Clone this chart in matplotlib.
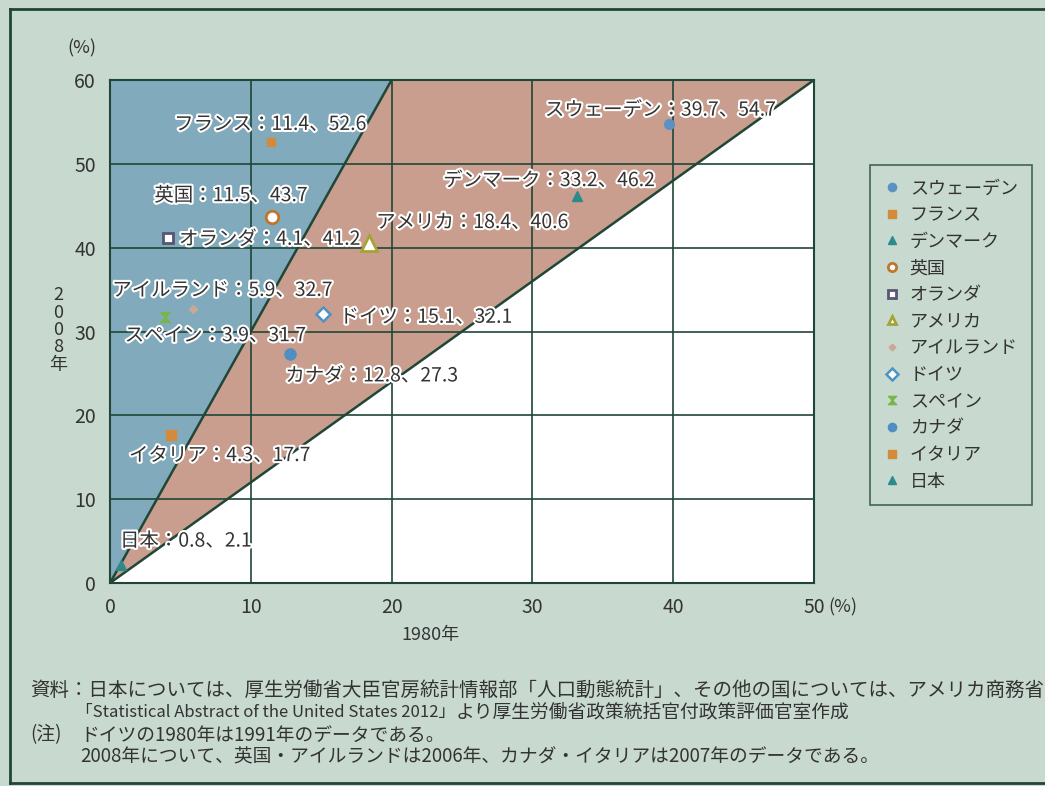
import numpy as np
import matplotlib
matplotlib.use('Agg')
import matplotlib.pyplot as plt
import matplotlib.patheffects as pe
from matplotlib.lines import Line2D

plt.rcParams['font.family'] = ['Noto Sans CJK JP', 'DejaVu Sans']

# female employment-related ratio: 1980 (x) vs 2008 (y), %
countries = ['スウェーデン', 'フランス', 'デンマーク', '英国', 'オランダ', 'アメリカ',
             'アイルランド', 'ドイツ', 'スペイン', 'カナダ', 'イタリア', '日本']
v1980 = [39.7, 11.4, 33.2, 11.5, 4.1, 18.4, 5.9, 15.1, 3.9, 12.8, 4.3, 0.8]
v2008 = [54.7, 52.6, 46.2, 43.7, 41.2, 40.6, 32.7, 32.1, 31.7, 27.3, 17.7, 2.1]

# boundary slopes of the shaded zones
steep_slope = 3.0
shallow_slope = 1.2

BG = '#c8d9cf'
DARK = '#1f4636'
BLUE_ZONE = '#82aabd'
RED_ZONE = '#c99e8f'
TXT = '#333333'

# marker styles per country
hourglass = [(-1, 1), (1, 1), (-1, -1), (1, -1), (-1, 1)]
styles = {
    'スウェーデン': dict(marker='o', mfc='#5b92c4', mec='#5b92c4', ms=7),
    'フランス': dict(marker='s', mfc='#d38a3c', mec='#d38a3c', ms=6),
    'デンマーク': dict(marker='^', mfc='#2c8a8c', mec='#2c8a8c', ms=7),
    '英国': dict(marker='o', mfc='white', mec='#c0762a', ms=9, mew=2),
    'オランダ': dict(marker='s', mfc='white', mec='#565675', ms=7, mew=2),
    'アメリカ': dict(marker='^', mfc='white', mec='#a4a436', ms=11, mew=2),
    'アイルランド': dict(marker='D', mfc='#c9a898', mec='#c9a898', ms=4),
    'ドイツ': dict(marker='D', mfc='white', mec='#4d93c4', ms=7, mew=1.8),
    'スペイン': dict(marker=hourglass, mfc='#78b54a', mec='#78b54a', ms=7),
    'カナダ': dict(marker='o', mfc='#4f8ec2', mec='#4f8ec2', ms=8),
    'イタリア': dict(marker='s', mfc='#d38a3c', mec='#d38a3c', ms=7),
    '日本': dict(marker='^', mfc='#2c8a8c', mec='#2c8a8c', ms=7),
}

# label anchor (x, y, ha) in data units
label_pos = {
    'スウェーデン': (39.1, 56.4, 'center'),
    'フランス': (11.4, 54.7, 'center'),
    'デンマーク': (31.2, 48.0, 'center'),
    '英国': (8.6, 46.2, 'center'),
    'オランダ': (4.9, 41.0, 'left'),
    'アメリカ': (18.9, 43.0, 'left'),
    'アイルランド': (8.0, 34.9, 'center'),
    'ドイツ': (16.3, 31.7, 'left'),
    'スペイン': (7.5, 29.5, 'center'),
    'カナダ': (18.6, 24.7, 'center'),
    'イタリア': (7.8, 15.2, 'center'),
    '日本': (5.4, 5.0, 'center'),
}

fig = plt.figure(figsize=(10.45, 7.86), dpi=100)
fig.patch.set_facecolor(BG)

W, H = 1045, 786
ax = fig.add_axes([110 / W, 1 - 583 / H, (814 - 110) / W, (583 - 80) / H])
ax.set_facecolor('white')
ax.set_xlim(0, 50)
ax.set_ylim(0, 60)

# shaded zones
x_top_steep = 60 / steep_slope
x_top_shallow = 60 / shallow_slope
ax.fill([0, 0, x_top_steep], [0, 60, 60], color=BLUE_ZONE, lw=0, zorder=0)
ax.fill([0, x_top_steep, x_top_shallow], [0, 60, 60], color=RED_ZONE, lw=0, zorder=0)
ax.plot([0, x_top_steep], [0, 60], color=DARK, lw=1.8, zorder=2)
ax.plot([0, x_top_shallow], [0, 60], color=DARK, lw=1.8, zorder=2)

ax.set_xticks(np.arange(0, 51, 10))
ax.set_yticks(np.arange(0, 61, 10))
ax.grid(True, color=DARK, lw=1.2, zorder=1)
ax.set_axisbelow(True)
for sp in ax.spines.values():
    sp.set_color(DARK)
    sp.set_linewidth(1.5)
ax.tick_params(length=0, labelsize=14, labelcolor=TXT, pad=10)

outline = [pe.withStroke(linewidth=3, foreground='white')]
for name, x, y in zip(countries, v1980, v2008):
    st = styles[name]
    ax.plot([x], [y], linestyle='none', zorder=4, **st)
    lx, ly, ha = label_pos[name]
    ax.text(lx, ly, f'{name}：{x}、{y}', ha=ha, va='center', fontsize=14,
            color=TXT, path_effects=outline, zorder=5)

# axis titles
fig.text(82 / W, 1 - 48 / H, '(%)', ha='center', va='center', fontsize=13, color=TXT)
fig.text(58 / W, 1 - 330 / H, '2\n0\n0\n8\n年', ha='center', va='center', fontsize=13,
         color=TXT, linespacing=0.95)
fig.text(843 / W, 1 - 607 / H, '(%)', ha='center', va='center', fontsize=13, color=TXT)
fig.text(430 / W, 1 - 635 / H, '1980年', ha='center', va='center', fontsize=13, color=TXT)

# legend
handles = []
for name in countries:
    st = dict(styles[name])
    st['ms'] = min(st['ms'], 7) * 0.85
    handles.append(Line2D([], [], linestyle='none', label=name, **st))
leg = fig.legend(handles=handles, loc='upper left', bbox_to_anchor=(870 / W, 1 - 165 / H),
                 fontsize=13, frameon=True, fancybox=False, labelspacing=0.48,
                 handlelength=0.8, handletextpad=0.6, borderpad=0.8, borderaxespad=0)
leg.get_frame().set_edgecolor(DARK)
leg.get_frame().set_facecolor(BG)
leg.get_frame().set_linewidth(1.2)
for t in leg.get_texts():
    t.set_color(TXT)

# notes
note_kw = dict(fontsize=13.5, color=TXT, va='center')
fig.text(30 / W, 1 - 690 / H, '資料：日本については、厚生労働省大臣官房統計情報部「人口動態統計」、その他の国については、アメリカ商務省',
         fontsize=14, color=TXT, va='center')
src = fig.text(76 / W, 1 - 712 / H, '「Statistical Abstract of the United States 2012」',
               fontsize=12, color=TXT, va='center')
renderer = fig.canvas.get_renderer()
src_end = src.get_window_extent(renderer).x1 / W
fig.text(src_end, 1 - 712 / H, 'より厚生労働省政策統括官付政策評価官室作成', **note_kw)
fig.text(30 / W, 1 - 735 / H, '(注)', **note_kw)
fig.text(80 / W, 1 - 735 / H, 'ドイツの1980年は1991年のデータである。', **note_kw)
fig.text(80 / W, 1 - 757 / H, '2008年について、英国・アイルランドは2006年、カナダ・イタリアは2007年のデータである。', **note_kw)

# outer frame
frame_kw = dict(color=DARK, lw=2, transform=fig.transFigure)
fig.add_artist(Line2D([10 / W, 1], [1 - 9 / H, 1 - 9 / H], **frame_kw))
fig.add_artist(Line2D([10 / W, 10 / W], [1 - 9 / H, 1 - 783 / H], **frame_kw))
fig.add_artist(Line2D([10 / W, 1], [1 - 783 / H, 1 - 783 / H], **frame_kw))

fig.savefig('out.png', dpi=100, facecolor=BG)
